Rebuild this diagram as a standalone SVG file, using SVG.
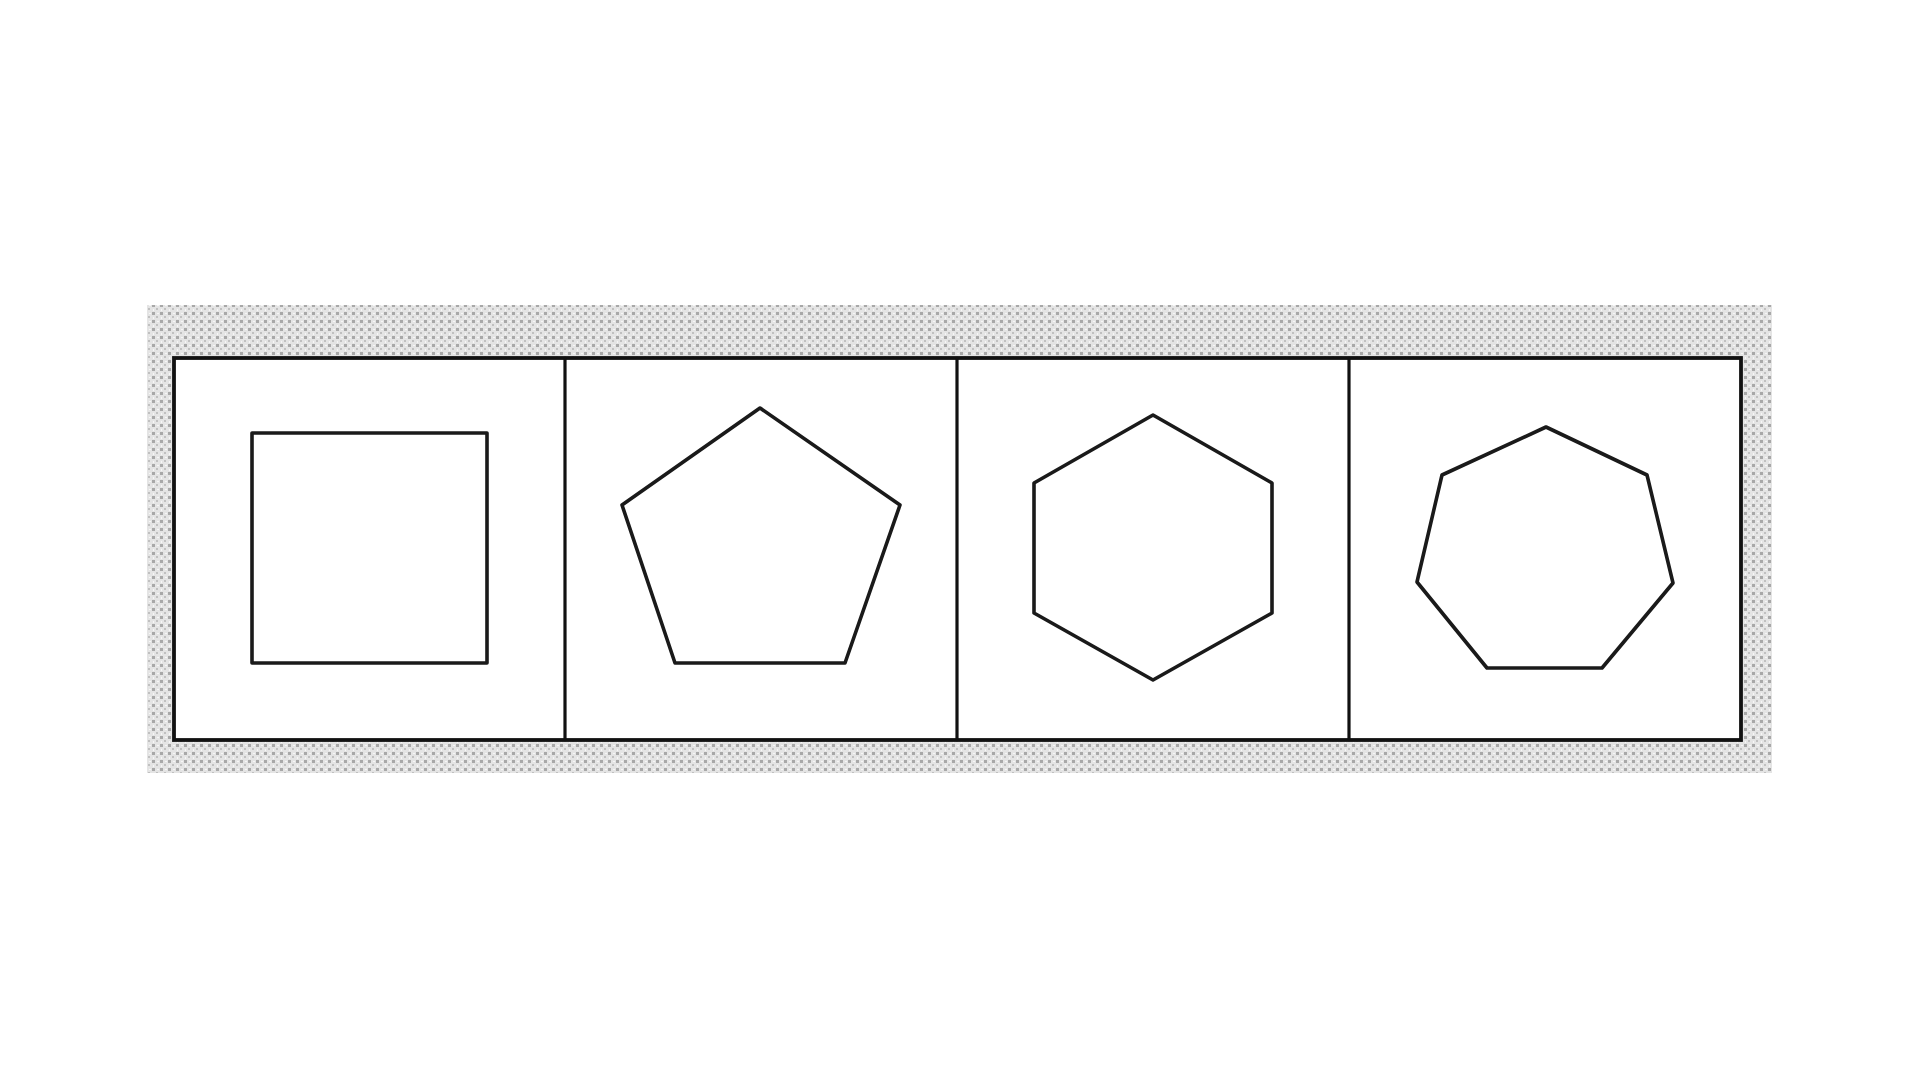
<svg xmlns="http://www.w3.org/2000/svg" width="1920" height="1080" viewBox="0 0 1920 1080">
  <defs>
    <pattern id="screen" x="0" y="0" width="8" height="8" patternUnits="userSpaceOnUse">
      <rect width="8" height="8" fill="#e4e4e4"/>
      <rect x="0" y="0" width="3" height="3" fill="#a8a8a8"/>
      <rect x="4" y="4" width="2" height="2" fill="#c0c0c0"/>
      <rect x="5" y="1" width="2" height="1" fill="#f6f6f6"/>
      <rect x="1" y="5" width="1" height="2" fill="#f6f6f6"/>
    </pattern>
  </defs>
  <style>
    .frame { fill: #ffffff; stroke: #111111; stroke-width: 3.8; }
    .divider { stroke: #111111; stroke-width: 3.2; fill: none; }
    .shape { fill: #ffffff; stroke: #1a1a1a; stroke-width: 3.6; stroke-linejoin: round; }
  </style>
  <rect x="0" y="0" width="1920" height="1080" fill="#ffffff"/>
  <g id="band">
    <rect x="147" y="305" width="1625" height="468" fill="url(#screen)"/>
    <rect class="frame" x="174" y="358" width="1567" height="382"/>
  </g>
  <g id="dividers">
    <line class="divider" x1="565" y1="358" x2="565" y2="740"/>
    <line class="divider" x1="957" y1="358" x2="957" y2="740"/>
    <line class="divider" x1="1349" y1="358" x2="1349" y2="740"/>
  </g>
  <g id="square">
    <polygon class="shape" points="252,433 487,433 487,663 252,663"/>
  </g>
  <g id="pentagon">
    <polygon class="shape" points="760,408 900,505 845,663 675,663 622,505"/>
  </g>
  <g id="hexagon">
    <polygon class="shape" points="1153,415 1272,483 1272,613 1153,680 1034,613 1034,483"/>
  </g>
  <g id="heptagon">
    <polygon class="shape" points="1546,427 1647,475 1673,583 1602,668 1487,668 1417,582 1442,475"/>
  </g>
</svg>
